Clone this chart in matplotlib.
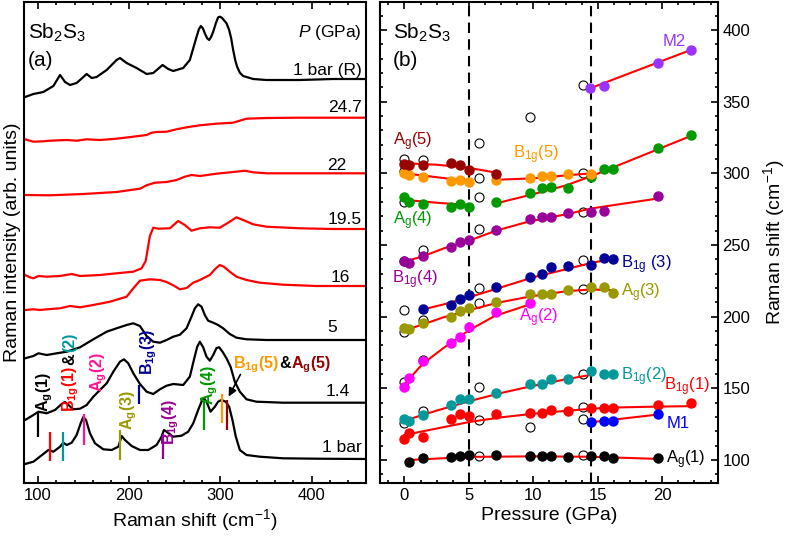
import matplotlib
matplotlib.use("Agg")
import matplotlib.pyplot as plt
from matplotlib.ticker import MultipleLocator

plt.rcParams['font.family'] = 'Liberation Sans'
plt.rcParams['mathtext.fontset'] = 'custom'
plt.rcParams['mathtext.rm'] = 'Liberation Sans'
plt.rcParams['mathtext.it'] = 'Liberation Sans:italic'
plt.rcParams['mathtext.bf'] = 'Liberation Sans:bold'

# ---------------- (a) Raman spectra, stacked (arb. units) ----------------
x_R = [85.8, 94.9, 105.8, 116.8, 124.1, 129.6, 135.0, 142.3, 153.3, 158.8, 164.2, 175.2,
       186.1, 189.8, 197.1, 208.0, 219.0, 226.3, 236.5, 242.7, 248.2, 259.1, 266.4, 273.7,
       276.3, 278.5, 280.7, 282.8, 285.4, 287.6, 289.8, 292.0, 294.9, 297.4, 299.3, 301.5,
       303.6, 306.6, 309.5, 311.7, 313.9, 316.1, 318.2, 321.2, 324.8, 335.8, 350.4, 386.9,
       423.4, 459.1]
y_R = [386, 389, 391, 397, 408, 401, 398, 400, 409, 405, 406, 413,
       423, 425, 420, 415, 409, 410, 418, 414, 412, 415, 423, 446,
       453.7, 457, 454.7, 449.7, 444.7, 443, 446.3, 451.3, 459.7, 465.7, 466.3, 465.3,
       463, 459.7, 453, 444.7, 433, 423, 416.3, 410.3, 407, 404, 403, 403,
       404, 404]

x_247 = [85.8, 94.9, 105.8, 113.1, 131.4, 142.3, 153.3, 167.9, 186.1, 204.4, 219.0, 224.5,
         229.9, 240.9, 251.8, 262.8, 277.4, 295.6, 313.9, 321.2, 328.5, 350.4, 386.9, 423.4, 459.1]
y_247 = [343.7, 341.3, 341.7, 342.3, 343, 342.3, 343.7, 343, 344.3, 346.3, 348, 350.3,
         351, 351.3, 353.7, 355.7, 357.7, 359.3, 360.3, 362.3, 364.3, 365, 365.3, 365.3, 365.3]

x_22 = [85.8, 113.1, 149.6, 186.1, 211.7, 219.0, 228.1, 240.9, 251.8, 260.9, 268.2, 277.4,
        295.6, 313.9, 321.2, 326.6, 335.8, 350.4, 386.9, 459.1]
y_22 = [288, 287.7, 289, 291, 294.3, 297.7, 300.3, 301, 303, 306.3, 308, 307,
        309.3, 311, 311.7, 312.3, 310.7, 309.7, 309.7, 309.7]

x_195 = [85.8, 91.2, 94.9, 100.4, 109.5, 124.1, 136.9, 146.0, 167.9, 186.1, 204.4, 213.5,
         218.0, 222.6, 226.3, 231.8, 244.5, 253.6, 260.9, 268.2, 277.4, 288.3, 299.3, 308.4,
         317.5, 324.8, 335.8, 350.4, 386.9, 423.4, 459.1]
y_195 = [208, 205.7, 204.7, 207, 206.3, 207, 209, 207, 208, 209.7, 211.3, 214.7,
         222, 247, 255.3, 254.3, 254.7, 262, 258, 252.3, 254.7, 255.7, 255.3, 260.3,
         265.7, 263, 258.7, 256.3, 254.7, 254, 254]

x_16 = [85.8, 94.9, 102.2, 109.5, 124.1, 135.0, 146.0, 160.6, 178.8, 197.1, 204.4, 211.7,
        222.6, 233.6, 240.9, 248.2, 255.5, 262.8, 270.1, 277.4, 288.3, 294.9, 299.3, 303.6,
        310.2, 317.5, 328.5, 343.1, 368.6, 405.1, 459.1]
y_16 = [173, 173.7, 173, 173.7, 174.7, 177, 175.7, 178, 181.3, 186.3, 194.7, 202.3,
        203.7, 203, 201, 197.7, 193.7, 195, 200.3, 203, 208, 214.7, 218, 216.3,
        211.3, 206.3, 203, 200.3, 198.3, 197, 197]

x_5 = [85.8, 94.9, 100.4, 109.5, 120.4, 131.4, 146.0, 160.6, 175.2, 186.1, 197.1, 204.4,
       211.7, 219.0, 226.3, 233.6, 240.9, 248.2, 255.5, 262.8, 268.2, 271.9, 275.5, 279.2,
       282.8, 286.5, 292.0, 297.4, 302.9, 310.2, 317.5, 328.5, 350.4, 386.9, 459.1]
y_5 = [124.7, 127, 129.7, 128, 129.7, 131.3, 135.7, 143.7, 151.3, 154.7, 158, 159.7,
       157, 147, 141.3, 140.3, 143, 146.3, 148.3, 154.7, 166.3, 174.7, 178.7, 176.3,
       168, 162.3, 160.3, 158, 154.7, 149, 145.3, 143.7, 143, 143, 143]

x_14 = [85.8, 94.9, 100.4, 109.5, 118.6, 125.9, 129.6, 133.2, 138.7, 146.0, 153.3, 160.6,
        167.9, 175.2, 182.5, 189.8, 194.2, 198.9, 204.4, 211.7, 219.0, 226.3, 233.6, 240.9,
        248.2, 259.1, 266.4, 270.8, 274.5, 277.4, 281.0, 284.7, 288.3, 292.0, 295.6, 298.5,
        302.2, 306.6, 311.0, 315.7, 321.2, 328.5, 339.4, 368.6, 459.1]
y_14 = [63, 68, 71.3, 69.7, 73, 79, 81, 78, 73.7, 74.3, 78, 86.3,
        93, 99.7, 111.3, 121.3, 123.7, 119.7, 109.7, 99, 91.3, 89, 93.7, 97.3,
        99, 98, 106.3, 123, 136.3, 141.3, 135.7, 126.3, 122.3, 128, 135, 135.7,
        131.3, 124.7, 116.3, 101.3, 91.3, 83.7, 81.3, 80.3, 80.3]

x_1 = [85.8, 94.9, 105.8, 111.3, 116.8, 124.1, 127.7, 131.4, 136.9, 142.3, 146.7, 149.6,
       152.6, 156.9, 162.4, 171.5, 180.7, 188.0, 191.6, 195.3, 202.6, 211.7, 220.8, 229.9,
       235.4, 238.0, 240.9, 248.2, 257.3, 264.6, 270.1, 275.5, 279.2, 281.8, 284.7, 289.1,
       293.8, 297.4, 301.1, 305.8, 309.5, 313.1, 316.8, 321.2, 328.5, 343.1, 368.6, 405.1, 459.1]
y_1 = [19, 21.3, 29, 33, 31.3, 36.3, 40.3, 38, 40.3, 48, 59.7, 66,
       63, 49.7, 39.7, 33.7, 33, 36.3, 47, 43, 37, 33, 33, 38,
       46.3, 53, 51.3, 46.3, 47.3, 51.3, 59.7, 73, 81.3, 84.7, 81.3, 71.3,
       76.3, 81.3, 83, 81.3, 76.3, 63, 46.3, 33, 28, 26.3, 24.7, 24.3, 24]

spectra = [(x_R, y_R, 'black'), (x_247, y_247, 'red'), (x_22, y_22, 'red'),
           (x_195, y_195, 'red'), (x_16, y_16, 'red'), (x_5, y_5, 'black'),
           (x_14, y_14, 'black'), (x_1, y_1, 'black')]

pressure_labels = ['1 bar (R)', '24.7', '22', '19.5', '16', '5', '1.4', '1 bar']
label_x = [455, 455, 427.7, 455, 431, 422, 428.8, 455]
label_y = [413, 375, 318, 263, 205, 155, 91, 35]
label_ha = ['right', 'right', 'center', 'right', 'center', 'center', 'center', 'right']

# mode markers on the 1 bar / 1.4 GPa spectra
mark_x = [99.6, 113.2, 127.0, 150.8, 189.9, 211.0, 237.4, 282.0, 301.3, 307.5]
mark_y0 = [45.7, 22, 22, 38, 23, 79, 24, 53, 60, 53]
mark_y1 = [71.3, 51.3, 51.3, 69, 53, 98, 49, 83, 89, 83]
mark_c = ['black', 'red', '#009999', '#FF1493', '#999900', '#000099', '#990099',
          '#009900', '#FF9900', '#990000']

# ---------------- (b) mode frequencies vs pressure ----------------
P_ag1 = [0.36, 1.4, 3.6, 4.3, 5.0, 7.1, 9.7, 10.7, 11.4, 12.7, 14.5, 15.5, 16.2, 19.7]
w_ag1 = [98.8, 101.4, 102.3, 102.8, 103.5, 103.3, 103.0, 102.8, 102.8, 102.3, 102.8, 102.8, 101.6, 101.6]
P_b1 = [0.0, 0.36, 1.4, 3.6, 4.3, 5.0, 7.1, 9.7, 10.7, 11.4, 12.7, 14.5, 15.5, 16.2, 19.7, 22.2]
w_b1 = [114.4, 118.6, 116.3, 128.6, 132.1, 130.7, 132.1, 133.0, 132.6, 134.9, 134.4, 136.0, 136.0, 136.0, 138.4, 139.5]
P_b2 = [0.0, 0.36, 1.4, 3.6, 4.3, 5.0, 7.1, 9.7, 10.7, 11.4, 12.7, 14.5, 15.5, 16.2]
w_b2 = [128.4, 127.2, 131.4, 138.4, 142.3, 142.3, 147.0, 153.0, 152.8, 156.3, 156.3, 162.3, 160.0, 160.0]
P_ag2 = [0.0, 0.36, 1.4, 3.6, 4.3, 5.0, 7.1, 9.7]
w_ag2 = [151.2, 157.0, 169.3, 181.9, 186.0, 193.0, 203.5, 209.8]
P_ag3 = [0.0, 0.36, 1.4, 3.6, 4.3, 5.0, 7.1, 9.7, 10.7, 11.4, 12.7, 14.5, 15.5, 16.2]
w_ag3 = [191.9, 191.2, 195.8, 200.0, 204.0, 205.8, 210.5, 215.6, 215.8, 215.8, 218.6, 220.5, 220.9, 216.7]
P_b3 = [1.4, 3.6, 4.3, 5.0, 7.1, 9.7, 10.7, 11.4, 12.7, 14.5, 15.5, 16.2]
w_b3 = [205.1, 208.1, 212.1, 215.1, 220.9, 227.9, 229.5, 234.5, 235.5, 236.0, 241.0, 240.0]
P_b4 = [0.0, 0.36, 1.4, 3.6, 4.3, 5.0, 7.1, 9.7, 10.7, 11.4, 12.7, 14.5, 15.5, 19.7]
w_b4 = [238.8, 237.2, 242.3, 248.8, 252.3, 253.5, 260.5, 268.1, 269.3, 269.3, 272.1, 272.8, 274.0, 284.2]
P_ag4 = [0.0, 0.36, 1.4, 3.6, 4.3, 5.0, 7.1, 9.7, 10.7, 11.4, 12.7, 14.5, 15.5, 16.2, 19.7, 22.2]
w_ag4 = [283.7, 280.2, 278.6, 276.7, 278.6, 276.7, 280.2, 286.5, 289.5, 290.2, 290.0, 297.7, 302.8, 302.8, 317.4, 326.7]
P_b5 = [0.0, 0.36, 1.4, 3.6, 4.3, 5.0, 7.1, 9.7, 10.7, 11.4, 12.7, 14.5]
w_b5 = [300.5, 298.8, 297.7, 294.7, 295.3, 294.2, 295.3, 296.5, 298.4, 298.1, 299.3, 299.5]
P_ag5 = [0.0, 0.36, 1.4, 3.6, 4.3, 5.0, 7.1]
w_ag5 = [306.5, 305.6, 306.0, 307.0, 305.6, 302.3, 299.5]
P_m1 = [14.5, 15.5, 16.2, 19.7]
w_m1 = [126.3, 127.2, 127.2, 132.1]
P_m2 = [14.4, 15.5, 19.7, 22.2]
w_m2 = [359.3, 360.9, 377.2, 386.0]

P_open = [0, 1.4, 0, 0, 1.4, 0, 5.8, 5.8, 5.8, 5.8, 9.7, 13.85, 13.85, 13.85, 13.85,
          0, 0, 1.4, 5.8, 5.8, 13.85, 0, 1.4, 0, 1.4, 5.8, 13.85, 5.8, 9.7, 13.85, 13.85,
          5.8, 13.85]
w_open = [309.8, 309.3, 301.5, 279.8, 246.5, 238.8, 321, 297, 283.7, 260.9, 339.1, 361.6, 300,
          272.8, 239.5, 204.7, 189.5, 197.7, 209.3, 219.8, 219, 154.7, 170, 125.6, 134.4,
          150.7, 160, 127.9, 123.3, 136.7, 128.8, 102.8, 103.5]

# fitted curves (red), nodes
fits = [
    ([0.3, 5, 10, 14.5, 19.7], [100.0, 102.2, 102.6, 102.3, 100.8]),
    ([0, 2.5, 5, 7.5, 10, 12.5, 14.5, 16, 19.7, 22.2],
     [117.5, 122, 126.5, 129.8, 132.3, 134.3, 135.8, 136.6, 137.3, 137.6]),
    ([14.4, 19.7], [126.3, 131.8]),
    ([0, 2.5, 5, 7.5, 10, 12.5, 14.5], [127.5, 134.5, 141, 146.8, 151.8, 156.3, 159.5]),
    ([0, 1.4, 3, 5, 7, 9.7], [153, 167, 178, 190.5, 200.5, 208.5]),
    ([0, 1.4, 3, 5, 7.1, 9.7, 12.6, 14.5, 16.2], [190.5, 194.5, 199.5, 204.5, 209.5, 214, 217.8, 219, 218.5]),
    ([1.4, 3, 5, 7.5, 10, 12.5, 14.5, 16.2], [205, 208.5, 213.5, 220.5, 227.5, 233, 237.5, 240.5]),
    ([0, 1.4, 3, 5, 7.1, 9.7, 12.6, 14.5, 19.7], [238.5, 242, 247.5, 253, 260, 266.5, 271.5, 275.5, 282.5]),
    ([0, 2.5, 5], [281.5, 279.5, 277.8]),
    ([7.1, 10, 12.5, 14.5, 22.2], [279, 285.5, 291.5, 298, 326]),
    ([0, 2.5, 5], [300, 297.3, 294.5]),
    ([7.1, 10, 12.5, 14.5], [295.5, 296.5, 298.5, 300]),
    ([0, 2.5, 5, 7.1], [307, 306, 303.8, 300.5]),
    ([14.4, 22.2], [359.3, 386]),
]

fig = plt.figure(figsize=(7.87, 5.37), dpi=100)
ax1 = fig.add_axes([24/787, 1 - 483/537, 342/787, 481/537])
ax2 = fig.add_axes([380/787, 1 - 483/537, 337.7/787, 481/537])

for x, y, c in spectra:
    ax1.plot(x, y, color=c, lw=1.6)
for s, x, y, ha in zip(pressure_labels, label_x, label_y, label_ha):
    ax1.text(x, y, s, fontsize=12.5, ha=ha, va='center')
ax1.text(455, 450, r'$\mathit{P}$ (GPa)', fontsize=12.5, ha='right', va='center')
ax1.vlines(mark_x, mark_y0, mark_y1, colors=mark_c, lw=1.6)
ax1.annotate('', xy=(307.5, 84), xytext=(323.3, 111),
             arrowprops=dict(arrowstyle='-|>', color='black', lw=1.2, mutation_scale=12))

ax1.set_xlim(84.6, 459.5)
ax1.set_ylim(0, 481)
ax1.set_yticks([])
ax1.xaxis.set_major_locator(MultipleLocator(100))
ax1.xaxis.set_minor_locator(MultipleLocator(20))
ax1.set_xlabel('Raman shift (cm$^{-1}$)', fontsize=14, labelpad=3)
ax1.set_ylabel('Raman intensity (arb. units)', fontsize=14, labelpad=2)
ax1.text(0.012, 0.935, r'Sb$_\mathrm{2}$S$_\mathrm{3}$', transform=ax1.transAxes, fontsize=15, va='center')
ax1.text(0.012, 0.878, '(a)', transform=ax1.transAxes, fontsize=15, va='center')

fig.canvas.draw()
renderer = fig.canvas.get_renderer()


def chain(ax, x, y, parts, rotation=0, size=11.5):
    inv = ax.transData.inverted()
    for s, c in parts:
        t = ax.text(x, y, s, color=c, fontsize=size, fontweight='bold',
                    rotation=rotation, rotation_mode='anchor', ha='left', va='baseline')
        bb = t.get_window_extent(renderer)
        if rotation == 90:
            y = inv.transform((0, bb.y1))[1] + 1
        else:
            x = inv.transform((bb.x1, 0))[0]


rot_labels = [
    (111, 71, [(r'A$_\mathbf{g}$(1)', 'black')]),
    (140, 71, [(r'B$_\mathbf{1g}$(1)', 'red'), ('&', 'black'), ('(2)', '#009999')]),
    (170, 91, [(r'A$_\mathbf{g}$(2)', '#FF1493')]),
    (203, 53, [(r'A$_\mathbf{g}$(3)', '#999900')]),
    (225, 108, [(r'B$_\mathbf{1g}$(3)', '#000099')]),
    (249, 38, [(r'B$_\mathbf{1g}$(4)', '#990099')]),
    (292, 78, [(r'A$_\mathbf{g}$(4)', '#009900')]),
]
for x, y, parts in rot_labels:
    chain(ax1, x, y, parts, rotation=90)
chain(ax1, 314, 115, [(r'B$_\mathbf{1g}$(5)', '#FF9900'), ('&', 'black'),
                      (r'A$_\mathbf{g}$(5)', '#990000')])

# ---- panel (b)
ax2.axvline(5, color='black', ls='--', lw=1.5, dashes=(5, 3), zorder=1)
ax2.axvline(14.5, color='black', ls='--', lw=1.5, dashes=(5, 3), zorder=1)
for px, wy in fits:
    ax2.plot(px, wy, color='red', lw=1.5, zorder=2)
ax2.plot(P_open, w_open, 'o', mfc='white', mec='black', mew=0.8, ms=6.5, ls='none', zorder=1.5)

series = [(P_ag1, w_ag1, 'black'), (P_b1, w_b1, 'red'), (P_b2, w_b2, '#009999'),
          (P_ag2, w_ag2, '#FF00FF'), (P_ag3, w_ag3, '#999900'), (P_b3, w_b3, '#000099'),
          (P_b4, w_b4, '#990099'), (P_ag4, w_ag4, '#009900'), (P_b5, w_b5, '#FF9900'),
          (P_ag5, w_ag5, '#990000'), (P_m1, w_m1, '#0000FF'), (P_m2, w_m2, '#9933FF')]
for px, wy, c in series:
    ax2.plot(px, wy, 'o', color=c, ms=6.5, ls='none', zorder=3)

mode_text = [
    ('M2', 20.96, 392, '#9933FF', 'center'),
    (r'A$_\mathrm{g}$(5)', 0.67, 322, '#990000', 'center'),
    (r'B$_\mathrm{1g}$(5)', 10.2, 313, '#FF9900', 'center'),
    (r'A$_\mathrm{g}$(4)', 0.67, 267, '#009900', 'center'),
    (r'B$_\mathrm{1g}$ (3)', 16.8, 236, '#000099', 'left'),
    (r'B$_\mathrm{1g}$(4)', 0.8, 225.5, '#990099', 'center'),
    (r'A$_\mathrm{g}$(3)', 16.8, 217, '#999900', 'left'),
    (r'A$_\mathrm{g}$(2)', 10.4, 199, '#FF00FF', 'center'),
    (r'B$_\mathrm{1g}$(2)', 16.8, 158, '#009999', 'left'),
    (r'B$_\mathrm{1g}$(1)', 21.9, 151, 'red', 'center'),
    ('M1', 20.3, 125.6, '#0000FF', 'left'),
    (r'A$_\mathrm{g}$(1)', 20.26, 100.5, 'black', 'left'),
]
for s, x, y, c, ha in mode_text:
    ax2.text(x, y, s, color=c, fontsize=12, ha=ha, va='center')

ax2.set_xlim(-1.9, 24.3)
ax2.set_ylim(84, 419.5)
ax2.xaxis.set_major_locator(MultipleLocator(5))
ax2.xaxis.set_minor_locator(MultipleLocator(1.25))
ax2.yaxis.set_major_locator(MultipleLocator(50))
ax2.yaxis.set_minor_locator(MultipleLocator(10))
ax2.yaxis.tick_right()
ax2.yaxis.set_label_position('right')
ax2.set_xlabel('Pressure (GPa)', fontsize=14, labelpad=3)
ax2.set_ylabel('Raman shift (cm$^{-1}$)', fontsize=14, labelpad=8)
ax2.text(0.038, 0.935, r'Sb$_\mathrm{2}$S$_\mathrm{3}$', transform=ax2.transAxes, fontsize=15, va='center')
ax2.text(0.038, 0.878, '(b)', transform=ax2.transAxes, fontsize=15, va='center')

for ax in (ax1, ax2):
    for sp in ax.spines.values():
        sp.set_linewidth(1.5)
    ax.tick_params(which='both', direction='in', top=True, labelsize=12, width=1.2)
    ax.tick_params(which='major', length=5)
    ax.tick_params(which='minor', length=2.5)
ax2.tick_params(which='both', left=True, right=True, labelleft=False, labelright=True)

fig.savefig('out.png', dpi=100)
